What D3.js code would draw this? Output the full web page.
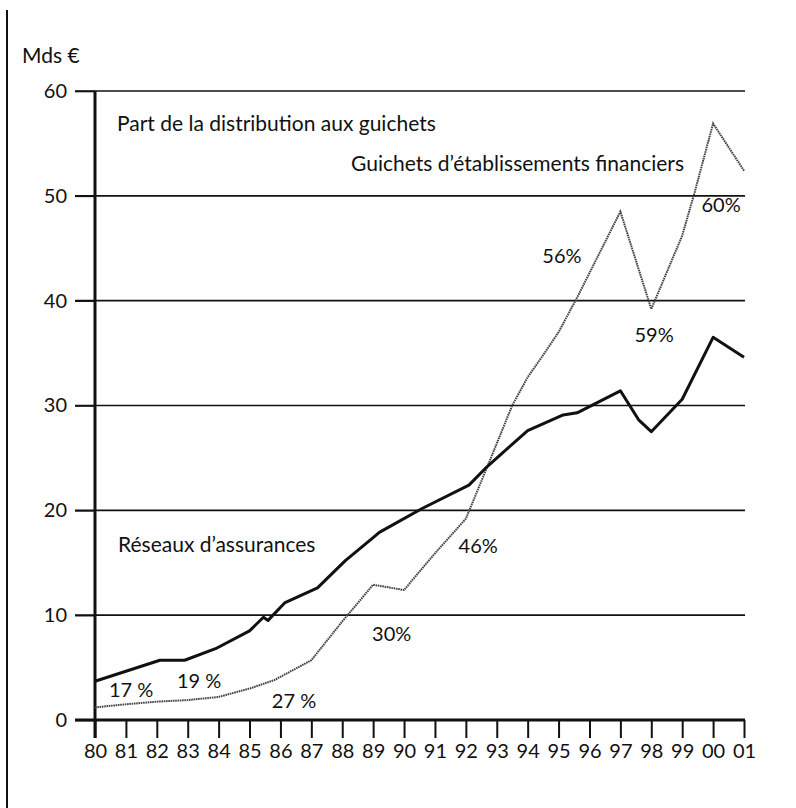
<!DOCTYPE html>
<html>
<head>
<meta charset="utf-8">
<script src="https://cdn.jsdelivr.net/npm/d3@7"></script>
<style>
  body { margin: 0; background: #fff; }
  text { font-family: Lato, "Open Sans", sans-serif; fill: #111; }
</style>
</head>
<body>
<div id="chart"></div>
<script>
// data (x = year, 80 = 1980, 101 = 2001)
const yearTicks = d3.range(80, 102);
const yearLabels = ["80","81","82","83","84","85","86","87","88","89","90",
                    "91","92","93","94","95","96","97","98","99","00","01"];
const valueTicks = [0, 10, 20, 30, 40, 50, 60];

// Réseaux d'assurances (solid)
const assurX = [80, 82.1, 82.9, 83.9, 85.0, 85.45, 85.6, 86.15, 87.2, 88.1, 89.0, 89.2,
                90.6, 92.1, 92.7, 94.0, 95.15, 95.6, 97.0, 97.6, 98.0, 99.0, 100.0, 101.0];
const assurY = [3.7, 5.7, 5.7, 6.8, 8.5, 9.8, 9.5, 11.2, 12.6, 15.2, 17.4, 17.9,
                20.2, 22.4, 24.2, 27.6, 29.1, 29.3, 31.4, 28.6, 27.5, 30.6, 36.5, 34.6];

// Guichets d'établissements financiers (dotted)
const guichX = [80, 81, 82, 83, 84, 85, 85.8, 87, 88, 89, 90, 91, 92, 92.7,
                93.5, 94, 94.5, 95, 95.6, 97, 98, 99, 99.4, 100, 101];
const guichY = [1.2, 1.5, 1.75, 1.9, 2.2, 3.0, 3.8, 5.7, 9.4, 12.9, 12.4, 15.9, 19.2, 24.2,
                30.0, 32.7, 34.8, 37.0, 40.3, 48.5, 39.2, 46.2, 50.3, 56.9, 52.4];

// share labels
const shareText = ["17 %", "19 %", "27 %", "30%", "46%", "56%", "59%", "60%"];
const shareX    = [81.17, 83.37, 86.44, 89.6, 92.4, 95.11, 98.09, 100.26];
const shareY    = [2.2, 3.05, 1.15, 7.5, 15.9, 43.6, 36.1, 48.5];

const W = 796, H = 808;

const svg = d3.select("#chart").append("svg")
    .attr("width", W)
    .attr("height", H);

const x = d3.scaleLinear().domain([80, 101]).range([95, 744]);
const y = d3.scaleLinear().domain([0, 60]).range([720, 91]);

// left border rule
svg.append("line")
    .attr("x1", 7).attr("x2", 7)
    .attr("y1", 10).attr("y2", H)
    .attr("stroke", "#111").attr("stroke-width", 2);

// gridlines
svg.append("g")
    .selectAll("line")
    .data(valueTicks.filter(d => d > 0))
    .join("line")
    .attr("x1", 75).attr("x2", 745)
    .attr("y1", d => y(d)).attr("y2", d => y(d))
    .attr("stroke", "#111").attr("stroke-width", 1.6);

// y axis
const yAxis = svg.append("g")
    .attr("transform", "translate(95,0)")
    .call(d3.axisLeft(y).tickValues(valueTicks).tickSize(20).tickPadding(8));
yAxis.select(".domain").remove();
yAxis.selectAll(".tick line").attr("stroke", "#111").attr("stroke-width", 1.6);
yAxis.selectAll("text").style("font-size", "20px");

// x axis
const xAxis = svg.append("g")
    .attr("transform", "translate(0,720)")
    .call(d3.axisBottom(x).tickValues(yearTicks)
        .tickFormat((d, i) => yearLabels[i]).tickSize(18).tickPadding(6));
xAxis.select(".domain").remove();
xAxis.selectAll(".tick line").attr("stroke", "#111").attr("stroke-width", 2);
xAxis.selectAll("text").style("font-size", "20px");

// baseline and vertical axis (thick)
svg.append("line")
    .attr("x1", 75).attr("x2", 745)
    .attr("y1", y(0)).attr("y2", y(0))
    .attr("stroke", "#111").attr("stroke-width", 3);
svg.append("line")
    .attr("x1", x(80)).attr("x2", x(80))
    .attr("y1", y(60)).attr("y2", 738)
    .attr("stroke", "#111").attr("stroke-width", 3);

// lines
const line = d3.line()
    .x(d => x(d[0]))
    .y(d => y(d[1]));

svg.append("path")
    .datum(d3.zip(guichX, guichY))
    .attr("fill", "none")
    .attr("stroke", "#444")
    .attr("stroke-width", 2)
    .attr("stroke-dasharray", "1.6 0.7")
    .attr("d", line);

svg.append("path")
    .datum(d3.zip(assurX, assurY))
    .attr("fill", "none")
    .attr("stroke", "#111")
    .attr("stroke-width", 3)
    .attr("stroke-linejoin", "round")
    .attr("d", line);

// text labels
svg.append("text")
    .attr("x", 22).attr("y", 63)
    .style("font-size", "21px")
    .text("Mds €");

svg.append("text")
    .attr("x", 117).attr("y", 131)
    .style("font-size", "21px")
    .text("Part de la distribution aux guichets");

svg.append("text")
    .attr("x", 684).attr("y", 171)
    .attr("text-anchor", "end")
    .style("font-size", "21px")
    .text("Guichets d’établissements financiers");

svg.append("text")
    .attr("x", 118).attr("y", 552)
    .style("font-size", "21px")
    .text("Réseaux d’assurances");

svg.append("g")
    .selectAll("text")
    .data(shareText)
    .join("text")
    .attr("x", (d, i) => x(shareX[i]))
    .attr("y", (d, i) => y(shareY[i]))
    .attr("text-anchor", "middle")
    .style("font-size", "20px")
    .text(d => d);
</script>
</body>
</html>
